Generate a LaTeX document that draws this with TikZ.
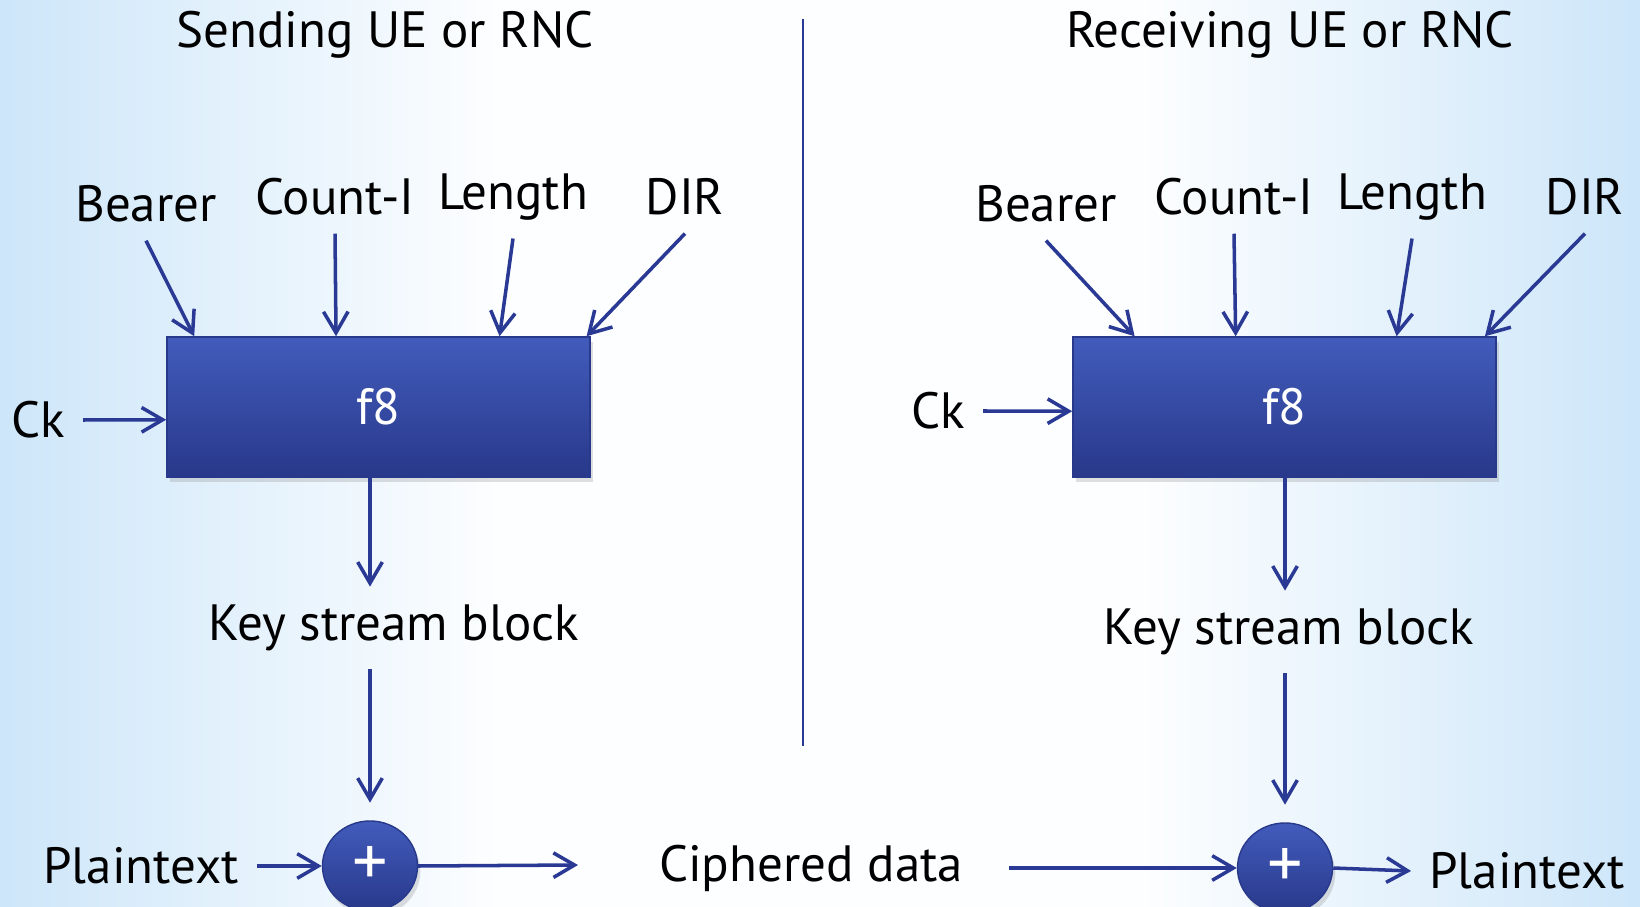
\documentclass[tikz,border=0pt]{standalone}
\usepackage{fontspec}
\setmainfont{PT Sans}
\usetikzlibrary{arrows.meta,shapes.geometric,shadows,calc,fadings}
\definecolor{bgblue}{RGB}{205,230,249}
\definecolor{bandblue}{RGB}{190,222,247}
\definecolor{linblue}{RGB}{42,58,148}
\definecolor{boxtop}{RGB}{66,92,188}
\definecolor{boxbot}{RGB}{40,56,138}
\pgfdeclarehorizontalshading{bgshade}{100bp}{color(0bp)=(bgblue); color(25bp)=(bgblue); color(40bp)=(white!94!bgblue); color(60bp)=(white!94!bgblue); color(75bp)=(bgblue); color(100bp)=(bgblue)}
\tikzfading[name=bandfade, top color=transparent!100, middle color=transparent!0, bottom color=transparent!100]
\tikzset{
  clab/.style={font=\fontsize{14.5}{17}\selectfont, inner sep=5pt},
  fbox/.style={draw=boxbot, top color=boxtop, bottom color=boxbot, minimum width=4.23cm, minimum height=1.4cm, text=white, font=\fontsize{14.5}{17}\selectfont, drop shadow={opacity=0.25, shadow xshift=0.8pt, shadow yshift=-1.5pt}},
  xorn/.style={ellipse, draw=boxbot, top color=boxtop, bottom color=boxbot, minimum width=0.95cm, minimum height=0.9cm, inner sep=0pt, text=white, font=\fontsize{20}{22}\selectfont, drop shadow={opacity=0.25, shadow xshift=0.8pt, shadow yshift=-1.5pt}},
  carr/.style={draw=linblue, line width=1pt, -{Straight Barb[length=6pt, width=7pt]}}
}

\begin{document}
\begin{tikzpicture}[x=0.01cm, y=-0.01cm]
    % background
    \useasboundingbox (0,0) rectangle (1640,907);
    \shade[shading=bgshade] (0,0) rectangle (1640,907);
    \fill[bandblue, opacity=0.7, path fading=bandfade] (0,690) rectangle (1640,810);
    % titles and divider
    \node[clab] (sendT) at (385,35) {Sending UE or RNC};
    \node[clab] (recvT) at (1290,35) {Receiving UE or RNC};
    \draw[linblue, line width=0.8pt] (803,19) -- (803,746);
    % sending side
    \node[fbox] (f8L) at (378.5,407) {f8};
    \node[clab] (bearL) at (146,204) {Bearer};
    \node[clab] (cntL) at (335,197) {Count-I};
    \node[clab] (lenL) at (513,197) {Length};
    \node[clab] (dirL) at (685,197) {DIR};
    \node[clab] (ckL) at (38,420) {Ck};
    \node[clab] (ksL) at (394,628) {Key stream block};
    \node[xorn] (xorL) at (370,866) {+};
    \node[clab] (ptL) at (141,866) {Plaintext};
    \coordinate (cipIn) at (578,865);
    \foreach \n/\f in {bearL/0.066, cntL/0.40, lenL/0.785, dirL/0.99}
      \draw[carr] (\n.south) -- ($(f8L.north west)!\f!(f8L.north east)$);
    \draw[carr] (ckL.east) -- ($(f8L.north west)!0.59!(f8L.south west)$);
    \draw[carr] (f8L.south -| xorL) -- (ksL.north -| xorL);
    \draw[carr, shorten >=5pt] (ksL.south -| xorL) -- (xorL.north);
    \draw[carr] (ptL.east) -- (xorL.west);
    \draw[carr] (xorL.east) -- (cipIn);
    % ciphered data
    \node[clab] (ciph) at (811,868) {Ciphered data};
    % receiving side
    \node[fbox] (f8R) at (1284.5,407) {f8};
    \node[clab] (bearR) at (1046,204) {Bearer};
    \node[clab] (cntR) at (1234,197) {Count-I};
    \node[clab] (lenR) at (1412,197) {Length};
    \node[clab] (dirR) at (1585,197) {DIR};
    \node[clab] (ckR) at (938,411) {Ck};
    \node[clab] (ksR) at (1289,632) {Key stream block};
    \node[xorn] (xorR) at (1285,868) {+};
    \node[clab] (ptR) at (1527,871) {Plaintext};
    \foreach \n/\f in {bearR/0.147, cntR/0.385, lenR/0.764, dirR/0.972}
      \draw[carr] (\n.south) -- ($(f8R.north west)!\f!(f8R.north east)$);
    \draw[carr] (ckR.east) -- ($(f8R.north west)!0.53!(f8R.south west)$);
    \draw[carr] (f8R.south -| xorR) -- (ksR.north -| xorR);
    \draw[carr, shorten >=5pt] (ksR.south -| xorR) -- (xorR.north);
    \draw[carr, shorten <=8pt] (ciph.east) -- (xorR.west);
    \draw[carr] (xorR.east) -- (ptR.west);
\end{tikzpicture}
\end{document}
